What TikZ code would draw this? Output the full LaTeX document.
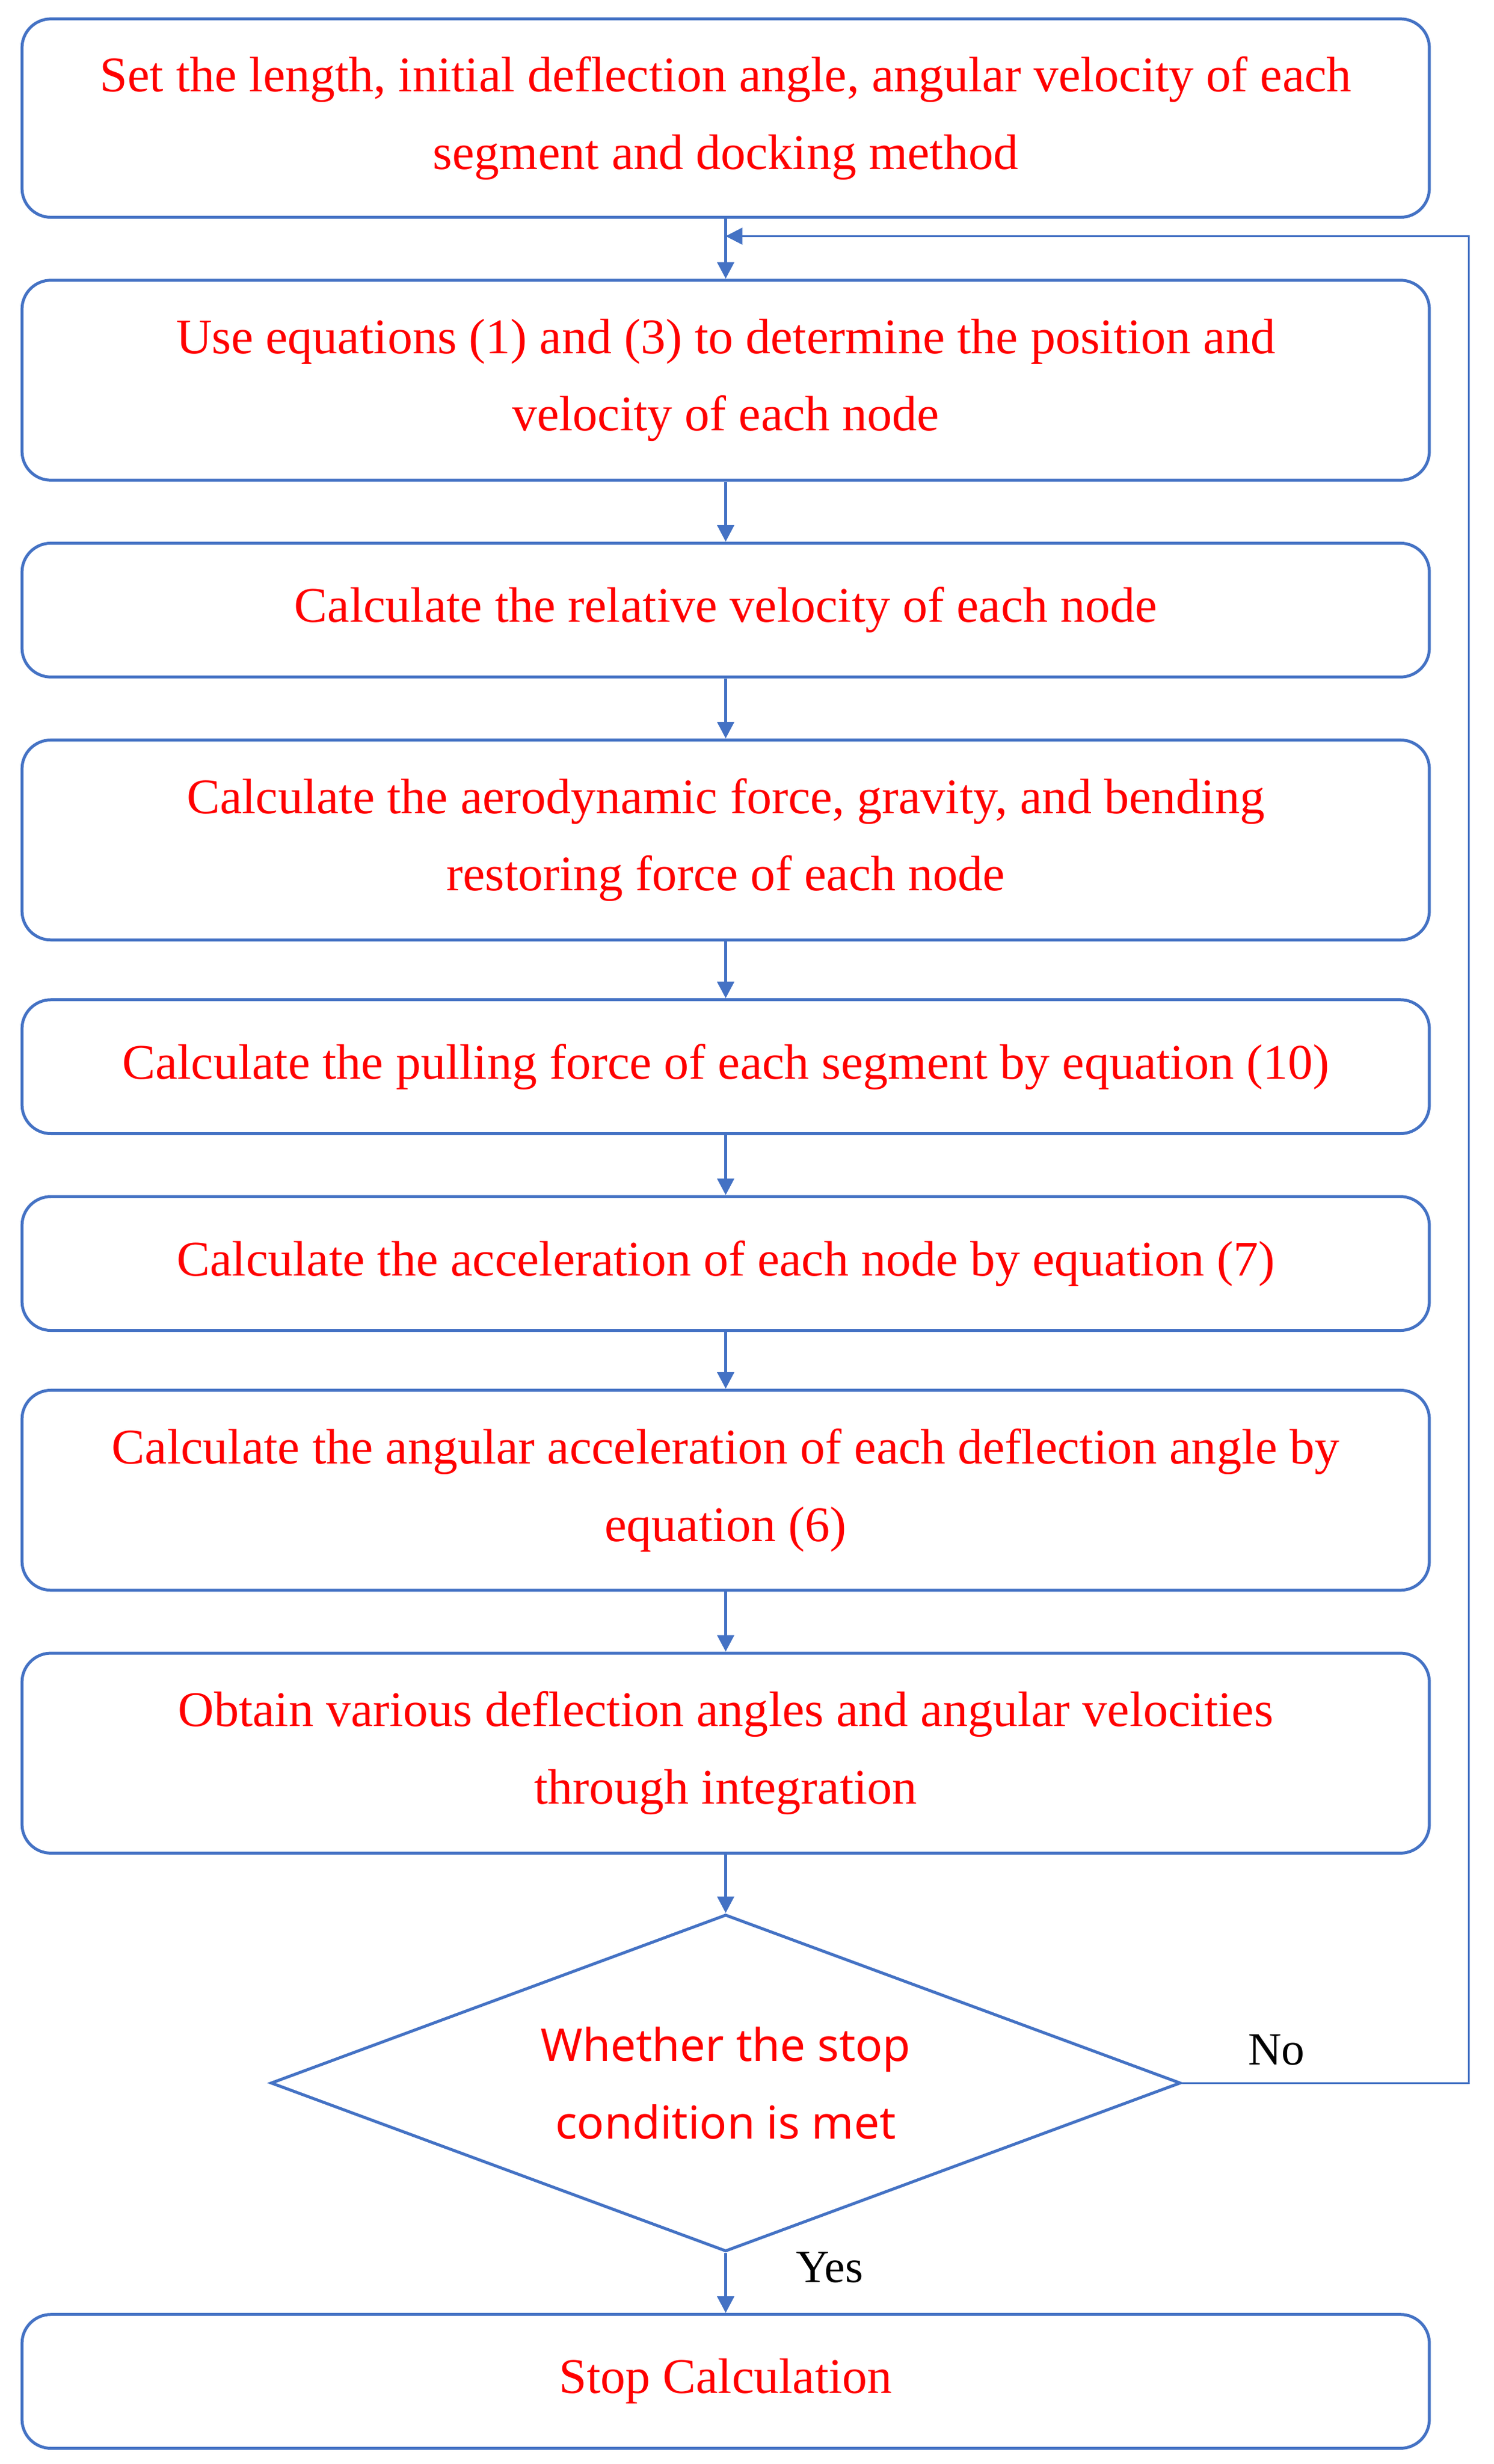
\documentclass[tikz,border=0pt]{standalone}
\usepackage{fontspec}
\setmainfont{Liberation Serif}
\newfontfamily\sansf{Noto Sans}
\usetikzlibrary{shapes.geometric,arrows.meta}
\definecolor{bl}{RGB}{68,114,196}
\definecolor{rd}{RGB}{255,0,0}
\begin{document}
\begin{tikzpicture}[x=0.03cm,y=-0.03cm,
  box/.style={draw=bl,line width=1.6pt,rounded corners=0.55cm,minimum width=26.82cm,align=center,text=rd,font=\fontsize{27}{42}\selectfont,inner sep=0pt},
  arr/.style={draw=bl,line width=1.6pt,-{Triangle[length=9pt,width=9pt]}}]
\useasboundingbox (0,0) rectangle (949,1565);
\node[box,minimum height=3.78cm] (b1) at (461,75) {Set the length, initial deflection angle, angular velocity of each\\segment and docking method};
\node[box,minimum height=3.81cm] (b2) at (461,241.5) {Use equations (1) and (3) to determine the position and\\velocity of each node};
\node[box,minimum height=2.55cm] (b3) at (461,387.5) {Calculate the relative velocity of each node};
\node[box,minimum height=3.81cm] (b4) at (461,533.5) {Calculate the aerodynamic force, gravity, and bending\\restoring force of each node};
\node[box,minimum height=2.55cm] (b5) at (461,677.5) {Calculate the pulling force of each segment by equation (10)};
\node[box,minimum height=2.55cm] (b6) at (461,802.5) {Calculate the acceleration of each node by equation (7)};
\node[box,minimum height=3.81cm] (b7) at (461,946.5) {Calculate the angular acceleration of each deflection angle by\\equation (6)};
\node[box,minimum height=3.81cm] (b8) at (461,1113.5) {Obtain various deflection angles and angular velocities\\through integration};
\node[draw=bl,line width=1.6pt,diamond,minimum width=17.34cm,minimum height=6.42cm,inner sep=0pt,aspect=2.7,text=rd,align=center,font=\sansf\fontsize{24.5}{42}\selectfont] (d) at (461,1323) {Whether the stop\\condition is met};
\node[box,minimum height=2.55cm] (b9) at (461,1512.5) {Stop Calculation};
\draw[arr] (b1) -- (b2);
\draw[arr] (b2) -- (b3);
\draw[arr] (b3) -- (b4);
\draw[arr] (b4) -- (b5);
\draw[arr] (b5) -- (b6);
\draw[arr] (b6) -- (b7);
\draw[arr] (b7) -- (b8);
\draw[arr] (b8) -- (d);
\draw[arr] (d) -- (b9);
\coordinate (c1) at (933,1323);
\coordinate (c2) at (933,150);
\coordinate (c3) at (461,150);
\draw[arr,line width=1pt] (d.east) -- (c1) -- (c2) -- (c3);
\node[font=\fontsize{25}{28}\selectfont] (no) at (811,1302) {No};
\node[font=\fontsize{25}{28}\selectfont] (yes) at (527,1440) {Yes};
\end{tikzpicture}
\end{document}
